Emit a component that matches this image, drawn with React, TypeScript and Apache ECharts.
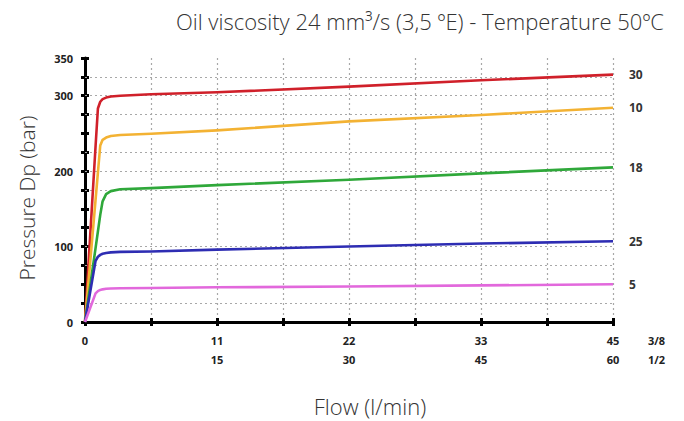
import React, { useEffect, useRef } from 'react';
import * as echarts from 'echarts';

// Flow values (x, l/min on the 3/8 scale)
const flow = [0, 0.9, 1.1, 1.3, 1.5, 1.8, 2.2, 3.0, 5.625, 11.25, 22.5, 33.75, 45];

const seriesNames = ['30', '10', '18', '25', '5'];
const seriesColors = ['#d0202a', '#f3b233', '#2fa83a', '#2e2db3', '#e268dc'];

const pressure30 = [0, 233, 283, 292, 295.5, 297.5, 299, 300, 302, 304.5, 312, 320.5, 328];
const pressure10 = [0, 162, 198, 234, 241.5, 244.5, 246.5, 248, 249.5, 254, 266, 274.5, 284];
const pressure18 = [0, 98, 120, 142, 160, 169.5, 173.5, 176, 177.5, 181.5, 188.5, 197, 205];
const pressure25 = [0, 81, 86.5, 89, 90.5, 91.5, 92.3, 93, 93.5, 96, 100, 104, 107];
const pressure5 = [0, 38, 41, 42.5, 43.3, 44, 44.4, 44.7, 45, 46, 47, 48.5, 50];

const seriesValues = [pressure30, pressure10, pressure18, pressure25, pressure5];

const xTopLabels = ['0', '11', '22', '33', '45'];
const xBottomLabels = ['', '15', '30', '45', '60'];
const yLabelValues = [0, 100, 200, 300, 350];
const hGridValues = [25, 75, 100, 175, 200, 225, 275, 300, 325];

const X_MAX = 45;
const X_STEP = 5.625;
const Y_MAX = 350;
const Y_STEP = 25;

const labelFont = '"Open Sans", "DejaVu Sans", sans-serif';

export default function App() {
  const ref = useRef<HTMLDivElement>(null);

  useEffect(() => {
    if (!ref.current) return;
    const chart = echarts.init(ref.current, undefined, { renderer: 'svg' });

    const tickLabelStyle = {
      color: '#222',
      fontSize: 11,
      fontWeight: 'bold' as const,
      fontFamily: labelFont,
    };

    const gridLine = { color: '#a8a8a8', type: [2, 3], width: 1.2 };

    const series: any[] = seriesNames.map((name, i) => ({
      name,
      type: 'line',
      xAxisIndex: 0,
      yAxisIndex: 0,
      data: flow.map((x, j) => [x, seriesValues[i][j]]),
      showSymbol: false,
      symbol: 'none',
      smooth: false,
      lineStyle: { color: seriesColors[i], width: 2.6, join: 'round' },
      itemStyle: { color: seriesColors[i] },
      z: 5,
      endLabel: {
        show: true,
        formatter: name,
        distance: 16,
        ...tickLabelStyle,
        fontSize: 12,
        color: '#333',
      },
    }));

    series.push({
      name: 'grid',
      type: 'line',
      data: [],
      markLine: {
        silent: true,
        symbol: 'none',
        label: { show: false },
        lineStyle: gridLine,
        data: hGridValues.map((v) => ({ yAxis: v })),
      },
      z: 1,
    });

    const nameStyle = {
      fill: '#333',
      fontFamily: labelFont,
      fontWeight: 300,
      textVerticalAlign: 'middle',
    };

    chart.setOption({
      animation: false,
      backgroundColor: '#ffffff',
      grid: { left: 85, right: 71, top: 58, bottom: 99, containLabel: false },
      xAxis: [
        {
          type: 'value',
          min: 0,
          max: X_MAX,
          interval: X_STEP,
          position: 'bottom',
          axisLine: { show: true, onZero: false, lineStyle: { color: '#000', width: 3 } },
          axisTick: { show: true, length: 4, lineStyle: { color: '#000', width: 3 } },
          splitLine: { show: true, lineStyle: gridLine },
          axisLabel: {
            ...tickLabelStyle,
            margin: 9,
            lineHeight: 19,
            showMaxLabel: true,
            showMinLabel: true,
            formatter: (v: number) => {
              const idx = Math.round(v / X_STEP);
              if (idx % 2 !== 0) return '';
              const k = idx / 2;
              return `${xTopLabels[k]}\n${xBottomLabels[k] || ' '}`;
            },
          },
          name: '3/8\n1/2',
          nameLocation: 'end',
          nameGap: 35,
          nameTextStyle: {
            ...tickLabelStyle,
            align: 'left',
            verticalAlign: 'top',
            lineHeight: 19,
            padding: [9, 0, 0, 0],
          },
        },
        {
          type: 'value',
          min: 0,
          max: X_MAX,
          interval: X_STEP,
          position: 'bottom',
          axisLine: { show: false, onZero: false },
          axisTick: { show: true, inside: true, length: 4, lineStyle: { color: '#000', width: 3 } },
          splitLine: { show: false },
          axisLabel: { show: false },
        },
      ],
      yAxis: [
        {
          type: 'value',
          min: 0,
          max: Y_MAX,
          interval: Y_STEP,
          position: 'left',
          axisLine: { show: true, onZero: false, lineStyle: { color: '#000', width: 3 } },
          axisTick: { show: true, length: 4, lineStyle: { color: '#000', width: 3 } },
          splitLine: { show: false },
          axisLabel: {
            ...tickLabelStyle,
            margin: 12,
            formatter: (v: number) => (yLabelValues.includes(v) ? String(v) : ''),
          },
        },
        {
          type: 'value',
          min: 0,
          max: Y_MAX,
          interval: Y_STEP,
          position: 'left',
          axisLine: { show: false, onZero: false },
          axisTick: { show: true, inside: true, length: 4, lineStyle: { color: '#000', width: 3 } },
          splitLine: { show: false },
          axisLabel: { show: false },
        },
      ],
      graphic: [
        {
          type: 'text',
          x: 664,
          y: 21,
          style: {
            ...nameStyle,
            text: 'Oil viscosity 24 mm³/s (3,5 ºE) - Temperature 50ºC',
            fontSize: 22,
            textAlign: 'right',
          },
        },
        {
          type: 'text',
          x: 370,
          y: 406,
          style: {
            ...nameStyle,
            text: 'Flow (l/min)',
            fontSize: 22,
            textAlign: 'center',
          },
        },
        {
          type: 'text',
          x: 27,
          y: 198,
          rotation: Math.PI / 2,
          style: {
            ...nameStyle,
            text: 'Pressure Dp (bar)',
            fontSize: 21,
            textAlign: 'center',
          },
        },
      ],
      series,
    });

    return () => chart.dispose();
  }, []);

  return (
    <div
      ref={ref}
      style={{ position: 'absolute', left: 0, top: 0, width: 684, height: 421 }}
    />
  );
}
